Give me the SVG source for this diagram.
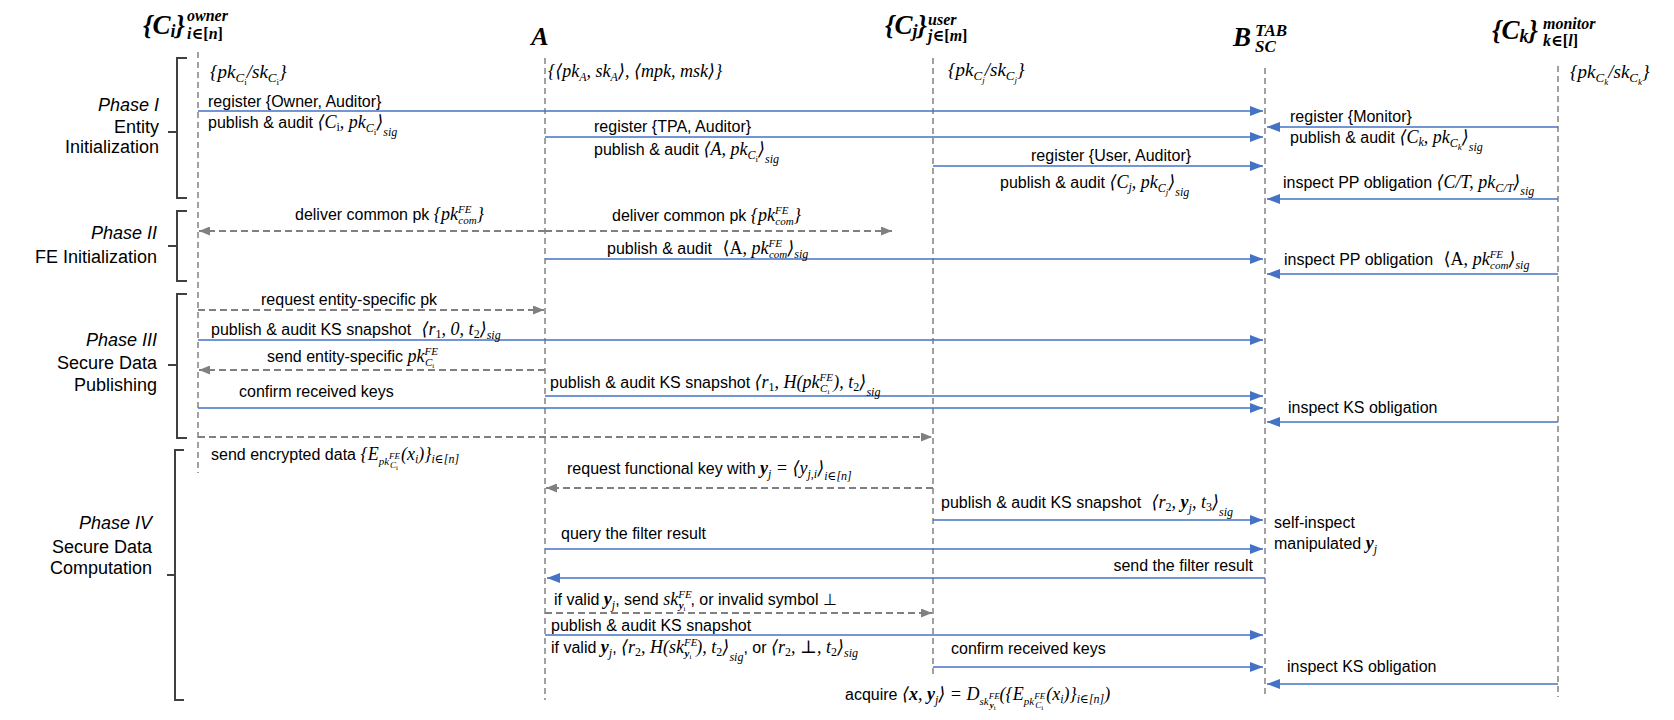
<svg xmlns="http://www.w3.org/2000/svg" width="1674" height="720" viewBox="0 0 1674 720">
<style>
.lf{stroke:#8a8a8a;stroke-width:1.6;stroke-dasharray:6 4;fill:none}
.sb{stroke:#4472C4;stroke-width:1.3;fill:none;marker-end:url(#ab)}
.dg{stroke:#808080;stroke-width:2;stroke-dasharray:7 4;fill:none;marker-end:url(#ag)}
.br{stroke:#404040;stroke-width:2;fill:none}
.t{font-family:"Liberation Sans",Arial,sans-serif;font-size:16px;fill:#000}
.ph{font-family:"Liberation Sans",Arial,sans-serif;font-size:18px;fill:#000;text-anchor:end}
.m{font-family:"Liberation Serif","Times New Roman","DejaVu Serif",serif;font-style:italic}
.t .m{font-size:18px}
.t .s{font-size:12px}
.t .ss{font-size:9px}
.t .sp{font-size:11px}
.t .s2{font-size:11px}
.t .s3{font-size:9px}
.t .s4{font-size:7px}
.u{font-style:normal}
.b{font-weight:bold}
.hd{font-family:"Liberation Serif","Times New Roman","DejaVu Serif",serif;font-style:italic;font-weight:bold;fill:#000}
</style>
<defs>
<marker id="ab" markerWidth="13" markerHeight="10" refX="13" refY="5" orient="auto" markerUnits="userSpaceOnUse"><path d="M0,0 L13,5 L0,10 z" fill="#4472C4"/></marker>
<marker id="ag" markerWidth="11" markerHeight="9" refX="11" refY="4.5" orient="auto" markerUnits="userSpaceOnUse"><path d="M0,0 L11,4.5 L0,9 z" fill="#808080"/></marker>
</defs>
<rect width="1674" height="720" fill="#fff"/>

<g id="owner">
<text class="hd" x="143" y="34" font-size="27">{C<tspan font-size="18" dy="3">i</tspan><tspan dy="-3">}</tspan></text>
<text class="hd" x="187" y="21" font-size="16">owner</text>
<text class="hd" x="187" y="39" font-size="16">i<tspan font-style="normal">∈[</tspan>n<tspan font-style="normal">]</tspan></text>
<line class="lf" x1="198" y1="52" x2="198" y2="473"/>
<text class="m" font-size="19" x="210" y="78">{pk<tspan font-size="13" dy="4">C</tspan><tspan font-size="9" dy="3" font-style="normal">i</tspan><tspan dy="-7">/sk</tspan><tspan font-size="13" dy="4">C</tspan><tspan font-size="9" dy="3" font-style="normal">i</tspan><tspan dy="-7">}</tspan></text>
</g>

<g id="tpa">
<text class="hd" x="540" y="45" font-size="26" text-anchor="middle">A</text>
<line class="lf" x1="545" y1="58" x2="545" y2="700"/>
<text class="m" font-size="18" x="548" y="77">{⟨pk<tspan font-size="12" dy="4">A</tspan><tspan dy="-4">, sk</tspan><tspan font-size="12" dy="4">A</tspan><tspan dy="-4">⟩, ⟨mpk, msk⟩}</tspan></text>
</g>

<g id="user">
<text class="hd" x="885" y="34" font-size="27">{C<tspan font-size="18" dy="3">j</tspan><tspan dy="-3">}</tspan></text>
<text class="hd" x="928" y="25" font-size="16">user</text>
<text class="hd" x="928" y="41" font-size="16">j<tspan font-style="normal">∈[</tspan>m<tspan font-style="normal">]</tspan></text>
<line class="lf" x1="933" y1="58" x2="933" y2="676"/>
<text class="m" font-size="19" x="948" y="76">{pk<tspan font-size="13" dy="4">C</tspan><tspan font-size="9" dy="3">j</tspan><tspan dy="-7">/sk</tspan><tspan font-size="13" dy="4">C</tspan><tspan font-size="9" dy="3">j</tspan><tspan dy="-7">}</tspan></text>
</g>

<g id="blockchain">
<text class="hd" x="1233" y="46" font-size="27">B</text>
<text class="hd" x="1255" y="36" font-size="17">TAB</text>
<text class="hd" x="1255" y="52" font-size="17">SC</text>
<line class="lf" x1="1265" y1="68" x2="1265" y2="698"/>
<text class="t" x="1274" y="528">self-inspect</text>
<text class="t" x="1274" y="549">manipulated <tspan class="m b">y</tspan><tspan class="m s" dy="4">j</tspan></text>
</g>

<g id="monitor">
<text class="hd" x="1492" y="39" font-size="27">{C<tspan font-size="18" dy="3">k</tspan><tspan dy="-3">}</tspan></text>
<text class="hd" x="1543" y="29" font-size="16">monitor</text>
<text class="hd" x="1543" y="46" font-size="16">k<tspan font-style="normal">∈[</tspan>l<tspan font-style="normal">]</tspan></text>
<line class="lf" x1="1558" y1="66" x2="1558" y2="697"/>
<text class="m" font-size="19" x="1570" y="78">{pk<tspan font-size="13" dy="4">C</tspan><tspan font-size="9" dy="3">k</tspan><tspan dy="-7">/sk</tspan><tspan font-size="13" dy="4">C</tspan><tspan font-size="9" dy="3">k</tspan><tspan dy="-7">}</tspan></text>
</g>

<g id="phase1">
<path class="br" d="M187,58 H177 V198 H187 M177,132 H168"/>
<text class="ph" x="159" y="111" font-style="italic">Phase I</text>
<text class="ph" x="159" y="133">Entity</text>
<text class="ph" x="159" y="153">Initialization</text>
</g>
<g id="phase2">
<path class="br" d="M187,211 H177 V281 H187 M177,246 H168"/>
<text class="ph" x="157" y="239" font-style="italic">Phase II</text>
<text class="ph" x="157" y="263">FE Initialization</text>
</g>
<g id="phase3">
<path class="br" d="M187,294 H177 V438 H187 M177,365 H168"/>
<text class="ph" x="157" y="346" font-style="italic">Phase III</text>
<text class="ph" x="157" y="369">Secure Data</text>
<text class="ph" x="157" y="391">Publishing</text>
</g>
<g id="phase4">
<path class="br" d="M184,450 H175 V700 H184 M175,575 H167"/>
<text class="ph" x="152" y="529" font-style="italic">Phase IV</text>
<text class="ph" x="152" y="553">Secure Data</text>
<text class="ph" x="152" y="574">Computation</text>
</g>

<g id="connectors">
<line class="sb" x1="198" y1="111" x2="1263" y2="111"/>
<line class="sb" x1="1558" y1="127" x2="1267" y2="127"/>
<line class="sb" x1="545" y1="137" x2="1263" y2="137"/>
<line class="sb" x1="933" y1="166" x2="1263" y2="166"/>
<line class="sb" x1="1558" y1="199" x2="1267" y2="199"/>
<line class="dg" x1="545" y1="231" x2="199" y2="231"/>
<line class="dg" x1="545" y1="231" x2="892" y2="231"/>
<line class="sb" x1="545" y1="259" x2="1263" y2="259"/>
<line class="sb" x1="1558" y1="274" x2="1267" y2="274"/>
<line class="dg" x1="198" y1="310" x2="544" y2="310"/>
<line class="sb" x1="198" y1="340" x2="1263" y2="340"/>
<line class="dg" x1="545" y1="370" x2="199" y2="370"/>
<line class="sb" x1="545" y1="396" x2="1263" y2="396"/>
<line class="sb" x1="198" y1="408" x2="1263" y2="408"/>
<line class="sb" x1="1558" y1="422" x2="1267" y2="422"/>
<line class="dg" x1="198" y1="437" x2="932" y2="437"/>
<line class="dg" x1="933" y1="488" x2="546" y2="488"/>
<line class="sb" x1="933" y1="520" x2="1263" y2="520"/>
<line class="sb" x1="545" y1="549" x2="1263" y2="549"/>
<line class="sb" x1="1265" y1="578" x2="547" y2="578"/>
<line class="dg" x1="545" y1="613" x2="932" y2="613"/>
<line class="sb" x1="545" y1="635" x2="1263" y2="635"/>
<line class="sb" x1="933" y1="667" x2="1263" y2="667"/>
<line class="sb" x1="1558" y1="684" x2="1267" y2="684"/>
</g>

<g id="labels">
<text class="t" x="208" y="107">register {Owner, Auditor}</text>
<text class="t" x="208" y="128">publish &amp; audit <tspan class="m">⟨C</tspan><tspan class="m u s" dy="3">i</tspan><tspan class="m" dy="-3">, pk</tspan><tspan class="m s" dy="4">C</tspan><tspan class="m u ss" dy="3">i</tspan><tspan class="m" dy="-7">⟩</tspan><tspan class="m s" dy="8">sig</tspan></text>

<text class="t" x="1290" y="122">register {Monitor}</text>
<text class="t" x="1290" y="143">publish &amp; audit <tspan class="m">⟨C</tspan><tspan class="m s" dy="3">k</tspan><tspan class="m" dy="-3">,  pk</tspan><tspan class="m s" dy="4">C</tspan><tspan class="m ss" dy="3">k</tspan><tspan class="m" dy="-7">⟩</tspan><tspan class="m s" dy="8">sig</tspan></text>

<text class="t" x="594" y="132">register {TPA, Auditor}</text>
<text class="t" x="594" y="155">publish &amp; audit <tspan class="m">⟨A, pk</tspan><tspan class="m s" dy="4">C</tspan><tspan class="m u ss" dy="3">i</tspan><tspan class="m" dy="-7">⟩</tspan><tspan class="m s" dy="8">sig</tspan></text>

<text class="t" x="1031" y="161">register {User, Auditor}</text>
<text class="t" x="1000" y="188">publish &amp; audit <tspan class="m">⟨C</tspan><tspan class="m s" dy="3">j</tspan><tspan class="m" dy="-3">,  pk</tspan><tspan class="m s" dy="4">C</tspan><tspan class="m ss" dy="3">j</tspan><tspan class="m" dy="-7">⟩</tspan><tspan class="m s" dy="8">sig</tspan></text>

<text class="t" x="1283" y="188">inspect PP obligation <tspan class="m">⟨C/T, pk</tspan><tspan class="m s" dy="4">C/T</tspan><tspan class="m" dy="-4">⟩</tspan><tspan class="m s" dy="7">sig</tspan></text>

<text class="t" x="295" y="220">deliver common pk <tspan class="m">{pk</tspan><tspan class="m sp" dy="-7">FE</tspan><tspan class="m sp" dx="-13" dy="11">com</tspan><tspan class="m" dy="-4">}</tspan></text>
<text class="t" x="612" y="221">deliver common pk <tspan class="m">{pk</tspan><tspan class="m sp" dy="-7">FE</tspan><tspan class="m sp" dx="-13" dy="11">com</tspan><tspan class="m" dy="-4">}</tspan></text>

<text class="t" x="607" y="254">publish &amp; audit <tspan class="m u" dx="6">⟨A, </tspan><tspan class="m">pk</tspan><tspan class="m sp" dy="-7">FE</tspan><tspan class="m sp" dx="-13" dy="11">com</tspan><tspan class="m" dy="-4">⟩</tspan><tspan class="m s" dy="4">sig</tspan></text>
<text class="t" x="1284" y="265">inspect PP obligation <tspan class="m u" dx="6">⟨A, </tspan><tspan class="m">pk</tspan><tspan class="m sp" dy="-7">FE</tspan><tspan class="m sp" dx="-13" dy="11">com</tspan><tspan class="m" dy="-4">⟩</tspan><tspan class="m s" dy="4">sig</tspan></text>

<text class="t" x="261" y="305">request entity-specific pk</text>
<text class="t" x="211" y="335">publish &amp; audit KS snapshot <tspan class="m" dx="6">⟨r</tspan><tspan class="m u s" dy="3">1</tspan><tspan class="m" dy="-3">, 0, t</tspan><tspan class="m u s" dy="3">2</tspan><tspan class="m" dy="-3">⟩</tspan><tspan class="m s" dy="4">sig</tspan></text>
<text class="t" x="267" y="362">send entity-specific <tspan class="m">pk</tspan><tspan class="m sp" dy="-7">FE</tspan><tspan class="m sp" dx="-13" dy="11">C</tspan><tspan class="m u s4" dy="2">i</tspan></text>
<text class="t" x="550" y="388">publish &amp; audit KS snapshot <tspan class="m">⟨r</tspan><tspan class="m u s" dy="3">1</tspan><tspan class="m" dy="-3">, H(pk</tspan><tspan class="m sp" dy="-7">FE</tspan><tspan class="m sp" dx="-13" dy="11">C</tspan><tspan class="m u s4" dy="2">i</tspan><tspan class="m" dx="4" dy="-6">), t</tspan><tspan class="m u s" dy="3">2</tspan><tspan class="m" dy="-3">⟩</tspan><tspan class="m s" dy="8">sig</tspan></text>
<text class="t" x="239" y="397">confirm received keys</text>
<text class="t" x="1288" y="413">inspect KS obligation</text>
<text class="t" x="211" y="460">send encrypted data <tspan class="m">{E</tspan><tspan class="m s2" dy="5">pk</tspan><tspan class="m s3" dy="-6">FE</tspan><tspan class="m s3" dx="-10" dy="9">C</tspan><tspan class="m u s4" dy="2">i</tspan><tspan class="m" dx="3" dy="-10">(x</tspan><tspan class="m s" dy="3">i</tspan><tspan class="m" dy="-3">)}</tspan><tspan class="m s" dy="3">i∈[n]</tspan></text>

<text class="t" x="567" y="474">request functional key with <tspan class="m b">y</tspan><tspan class="m s" dy="4">j</tspan><tspan class="m" dy="-4"> = ⟨y</tspan><tspan class="m s" dy="4">j,i</tspan><tspan class="m" dy="-4">⟩</tspan><tspan class="m s" dy="6">i∈[n]</tspan></text>
<text class="t" x="941" y="508">publish &amp; audit KS snapshot <tspan class="m" dx="6">⟨r</tspan><tspan class="m u s" dy="3">2</tspan><tspan class="m" dy="-3">, </tspan><tspan class="m b">y</tspan><tspan class="m s" dy="4">j</tspan><tspan class="m" dy="-4">, t</tspan><tspan class="m u s" dy="3">3</tspan><tspan class="m" dy="-3">⟩</tspan><tspan class="m s" dy="8">sig</tspan></text>
<text class="t" x="561" y="539">query the filter result</text>
<text class="t" x="1253" y="571" text-anchor="end">send the filter result</text>
<text class="t" x="554" y="605">if valid <tspan class="m b">y</tspan><tspan class="m s" dy="4">j</tspan><tspan dy="-4">, send </tspan><tspan class="m">sk</tspan><tspan class="m sp" dy="-7">FE</tspan><tspan class="m b sp" dx="-13" dy="11">y</tspan><tspan class="m u s4" dy="2">i</tspan><tspan dx="5" dy="-6">, or invalid symbol ⊥</tspan></text>
<text class="t" x="551" y="631">publish &amp; audit KS snapshot</text>
<text class="t" x="551" y="653">if valid <tspan class="m b">y</tspan><tspan class="m s" dy="4">j</tspan><tspan dy="-4">, </tspan><tspan class="m">⟨r</tspan><tspan class="m u s" dy="3">2</tspan><tspan class="m" dy="-3">, H(sk</tspan><tspan class="m sp" dy="-7">FE</tspan><tspan class="m b sp" dx="-13" dy="11">y</tspan><tspan class="m u s4" dy="2">i</tspan><tspan class="m" dx="5" dy="-6">), t</tspan><tspan class="m u s" dy="3">2</tspan><tspan class="m" dy="-3">⟩</tspan><tspan class="m s" dy="8">sig</tspan><tspan dy="-8">, or </tspan><tspan class="m">⟨r</tspan><tspan class="m u s" dy="3">2</tspan><tspan class="m" dy="-3">, ⊥, t</tspan><tspan class="m u s" dy="3">2</tspan><tspan class="m" dy="-3">⟩</tspan><tspan class="m s" dy="4">sig</tspan></text>
<text class="t" x="951" y="654">confirm received keys</text>
<text class="t" x="1287" y="672">inspect KS obligation</text>
<text class="t" x="845" y="700">acquire <tspan class="m">⟨</tspan><tspan class="m b">x</tspan><tspan class="m">, </tspan><tspan class="m b">y</tspan><tspan class="m s" dy="4">j</tspan><tspan class="m" dy="-4">⟩ = D</tspan><tspan class="m s2" dy="5">sk</tspan><tspan class="m s3" dy="-6">FE</tspan><tspan class="m b s3" dx="-10" dy="9">y</tspan><tspan class="m u s4" dy="2">i</tspan><tspan class="m" dx="4" dy="-10">({E</tspan><tspan class="m s2" dy="5">pk</tspan><tspan class="m s3" dy="-6">FE</tspan><tspan class="m s3" dx="-10" dy="9">C</tspan><tspan class="m u s4" dy="2">i</tspan><tspan class="m" dx="3" dy="-10">(x</tspan><tspan class="m s" dy="3">i</tspan><tspan class="m" dy="-3">)}</tspan><tspan class="m s" dy="3">i∈[n]</tspan><tspan class="m" dy="-3">)</tspan></text>
</g>
</svg>
